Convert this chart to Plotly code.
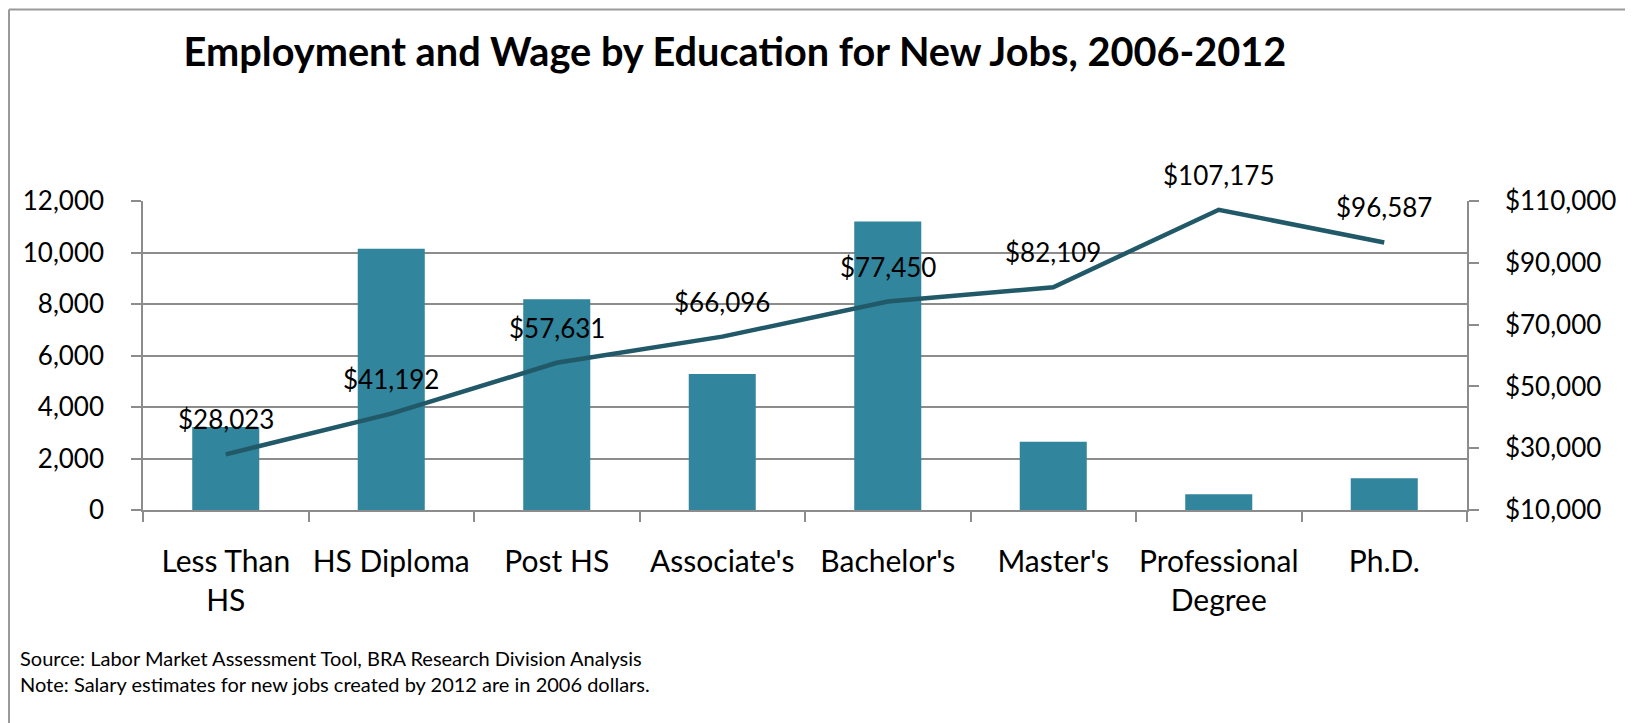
import plotly.graph_objects as go

# data
categories = ["Less Than HS", "HS Diploma", "Post HS", "Associate's",
              "Bachelor's", "Master's", "Professional Degree", "Ph.D."]
tick_labels = ["Less Than<br>HS", "HS Diploma", "Post HS", "Associate's",
               "Bachelor's", "Master's", "Professional<br>Degree", "Ph.D."]
employment = [3220, 10150, 8180, 5280, 11200, 2650, 610, 1230]
wages = [28023, 41192, 57631, 66096, 77450, 82109, 107175, 96587]

title = "Employment and Wage by Education for New Jobs, 2006-2012"
notes = ["Source: Labor Market Assessment Tool, BRA Research Division Analysis",
         "Note: Salary estimates for new jobs created by 2012 are in 2006 dollars."]

OFF = 8  # page body margin
W, H = 1633 - OFF, 723 - OFF
L, R, T, B = 143 - OFF, 1467 - OFF, 200.7 - OFF, 510 - OFF  # plot area
pw, ph = R - L, B - T


def px(x):
    return (x - OFF - L) / pw


def py(y):
    return (B - (y - OFF)) / ph


BAR = "#31859C"
LINE = "#215968"
GRID = "#8c8c8c"
FONT = "Lato"

bars = go.Bar(x=categories, y=employment, marker=dict(color=BAR, line=dict(width=0)),
              yaxis="y", hoverinfo="skip")
line = go.Scatter(x=categories, y=wages, mode="lines", yaxis="y2",
                  line=dict(color=LINE, width=4.5), hoverinfo="skip")

annotations = []
for c, w in zip(categories, wages):
    annotations.append(dict(x=c, y=w, xref="x", yref="y2", text="${:,}".format(w),
                            showarrow=False, yanchor="bottom", yshift=17,
                            font=dict(family=FONT, size=26, color="black")))
for i, n in enumerate(notes):
    annotations.append(dict(x=px(18), y=py(658 + 26 * i), xref="paper", yref="paper",
                            text=n, showarrow=False, xanchor="left", yanchor="middle",
                            font=dict(family=FONT, size=20, color="black")))

# chart frame: only its top and left edges fall inside the picture
frame = dict(type="line", xref="paper", yref="paper",
             line=dict(color="#9a9a9a", width=2), layer="below")
shapes = [dict(frame, x0=px(9), x1=px(1700), y0=py(9), y1=py(9)),
          dict(frame, x0=px(9), x1=px(9), y0=py(9), y1=py(800))]

fig = go.Figure(data=[bars, line])
fig.update_layout(
    width=W, height=H,
    margin=dict(l=L, r=W - R, t=T, b=H - B, pad=0, autoexpand=False),
    paper_bgcolor="white", plot_bgcolor="white",
    showlegend=False, bargap=0.595,
    title=dict(text="<b>" + title + "</b>", x=(735 - OFF) / W, xanchor="center",
               y=1 - (52 - OFF) / H, yanchor="middle",
               font=dict(family=FONT, size=39.7, color="black")),
    font=dict(family=FONT, color="black"),
    xaxis=dict(type="category", categoryorder="array", categoryarray=categories,
               tickvals=categories, ticktext=tick_labels, tickson="boundaries",
               ticks="outside", ticklen=10, tickcolor=GRID, tickwidth=1.5,
               showline=True, linecolor=GRID, linewidth=1.5, showgrid=False,
               tickangle=0, tickfont=dict(family=FONT, size=30),
               ticklabelstandoff=24, automargin=False),
    yaxis=dict(range=[0, 12000], dtick=2000, tickformat=",d",
               ticks="outside", ticklen=10, tickcolor=GRID, tickwidth=1.5,
               showline=True, linecolor=GRID, linewidth=1.5,
               showgrid=True, gridcolor=GRID, gridwidth=1.5, zeroline=False,
               tickfont=dict(family=FONT, size=26), ticklabelstandoff=22,
               automargin=False),
    yaxis2=dict(range=[10000, 110000], tick0=10000, dtick=20000, tickformat=",d",
                tickprefix="$", overlaying="y", side="right",
                ticks="outside", ticklen=10, tickcolor=GRID, tickwidth=1.5,
                showline=True, linecolor=GRID, linewidth=1.5,
                showgrid=False, zeroline=False,
                tickfont=dict(family=FONT, size=26), ticklabelstandoff=21,
                automargin=False),
    annotations=annotations,
    shapes=shapes,
)

fig.write_html("out.html")
